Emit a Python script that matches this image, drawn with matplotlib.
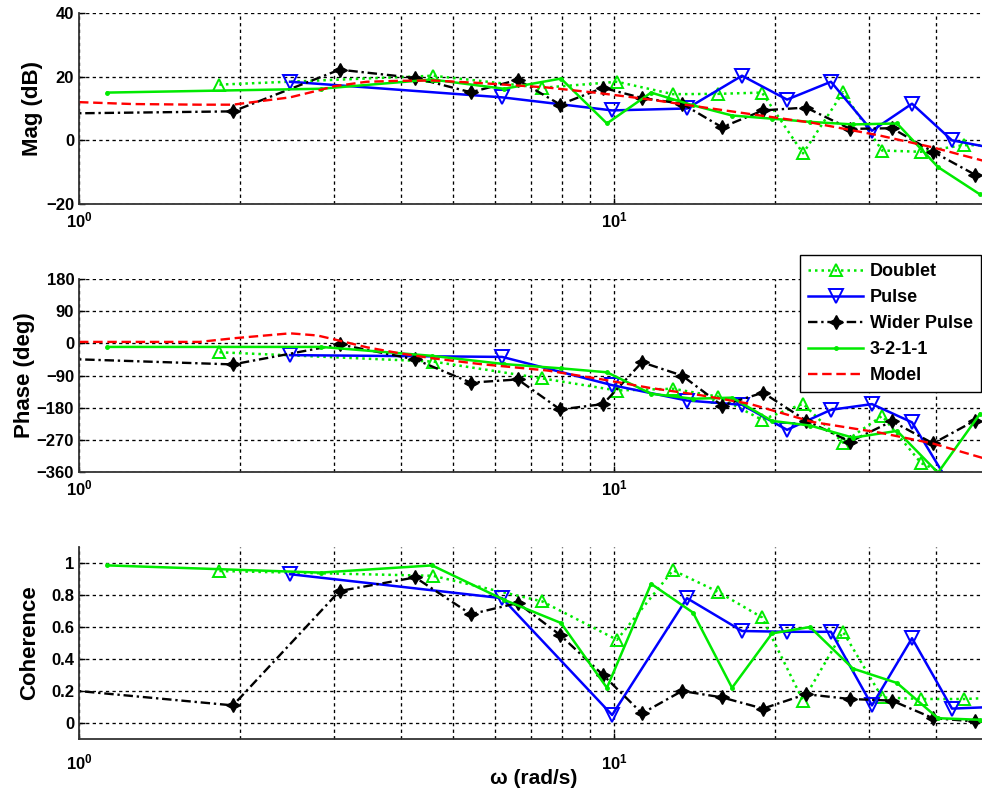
import numpy as np
import matplotlib
matplotlib.use("Agg")
import matplotlib.pyplot as plt
from matplotlib.ticker import LogLocator, NullFormatter

# ---- frequency responses (rad/s, dB, deg, coherence) ----
doublet_w = [1.83, 4.59, 7.34, 10.13, 12.89, 15.64, 18.91, 22.56, 26.8, 31.7, 37.5, 45.1, 53.5]
doublet_mag = [17.5, 20.3, 16.5, 18.4, 14.5, 14.6, 15.0, -4.1, 15.1, -3.2, -3.6, -1.5, -1.6]
doublet_phase = [-25, -51, -98, -132, -127, -149, -214, -169, -278, -203, -335, -390, -420]
doublet_coh = [0.95, 0.92, 0.76, 0.52, 0.955, 0.82, 0.66, 0.14, 0.57, 0.16, 0.15, 0.15, 0.16]

pulse_w = [2.48, 6.18, 9.92, 13.69, 17.35, 21.06, 25.44, 30.35, 36.06, 42.83, 51.0]
pulse_mag = [18.4, 13.5, 9.4, 10.0, 20.3, 12.8, 18.4, 3.0, 11.5, 0.0, -2.4]
pulse_phase = [-33, -38, -117, -160, -172, -242, -186, -170, -221, -405, -430]
pulse_coh = [0.93, 0.78, 0.05, 0.78, 0.575, 0.57, 0.57, 0.11, 0.53, 0.09, 0.10]

wider_w = [0.8, 1.94, 3.07, 4.25, 5.40, 6.61, 7.93, 9.54, 11.28, 13.40, 15.92,
           18.99, 22.85, 27.62, 33.08, 39.48, 47.30]
wider_mag = [8.3, 9.1, 22.2, 19.6, 15.1, 19.0, 11.25, 16.5, 13.3, 11.5, 4.1,
             9.4, 10.3, 3.6, 3.8, -3.6, -10.8]
wider_phase = [-40, -59, -3, -45, -110, -101, -185, -170, -53, -90, -174,
               -138, -216, -275, -218, -280, -216]
wider_coh = [0.23, 0.11, 0.825, 0.91, 0.68, 0.75, 0.55, 0.30, 0.06, 0.20, 0.16,
             0.09, 0.18, 0.15, 0.14, 0.03, 0.01]

s3211_w = [1.13, 2.83, 4.57, 6.23, 7.96, 9.70, 11.73, 14.05, 16.62, 19.74,
           23.25, 27.97, 33.81, 40.33, 48.33]
s3211_mag = [15.0, 16.2, 19.1, 16.2, 19.4, 5.3, 15.0, 11.0, 7.8, 6.8,
             5.8, 5.0, 5.3, -8.4, -17.0]
s3211_phase = [-10, -10, -35, -58, -70, -81, -141, -155, -152, -217,
               -230, -264, -245, -362, -197]
s3211_coh = [0.985, 0.94, 0.985, 0.77, 0.625, 0.22, 0.87, 0.69, 0.22, 0.56,
             0.60, 0.34, 0.25, 0.03, 0.02]

model_w = [1.0, 1.26, 1.68, 1.94, 2.48, 2.79, 3.0, 3.45, 3.98, 4.59, 5.62,
           7.5, 9.42, 11.7, 14.5, 17.9, 23.5, 31.4, 39.4, 50.0]
model_mag = [12.0, 11.4, 11.2, 11.2, 13.5, 15.6, 17.0, 18.4, 18.7, 18.8, 18.0,
             16.6, 14.8, 12.8, 10.5, 8.3, 5.5, 1.5, -2.2, -6.8]
model_phase = [4, 4, 4, 14, 28, 22, 11, -11, -28, -42, -58,
               -76, -100, -125, -145, -169, -220, -250, -280, -325]

mag_ticks = [-20, 0, 20, 40]
phase_ticks = [-360, -270, -180, -90, 0, 90, 180]
coh_ticks = [0, 0.2, 0.4, 0.6, 0.8, 1]
coh_labels = ["0", "0.2", "0.4", "0.6", "0.8", "1"]

plt.rcParams["font.family"] = ["Liberation Sans", "DejaVu Sans"]
plt.rcParams["font.weight"] = "bold"
plt.rcParams["mathtext.fontset"] = "custom"
plt.rcParams["mathtext.rm"] = "Liberation Sans"
plt.rcParams["mathtext.bf"] = "Liberation Sans:bold"
plt.rcParams["mathtext.it"] = "Liberation Sans:italic"

W, H = 982, 799
fig = plt.figure(figsize=(W / 100, H / 100), dpi=100)

def rect(top, bottom):
    return [79 / W, 1 - bottom / H, 535 * np.log10(50) / W, (bottom - top) / H]

ax_mag = fig.add_axes(rect(13, 204))
ax_ph = fig.add_axes(rect(279, 472))
ax_coh = fig.add_axes(rect(547, 739))

GREEN = "#00ea00"
styles = {
    "Doublet": dict(color=GREEN, linestyle=(0, (1, 1.6)), linewidth=1.8, marker="^",
                    markersize=9, markerfacecolor="none", markeredgewidth=1.4),
    "Pulse": dict(color="#0000ff", linestyle="-", linewidth=1.8, marker="v",
                  markersize=10, markerfacecolor="none", markeredgewidth=1.4),
    "Wider Pulse": dict(color="k", linestyle=(0, (4, 1.6, 1, 1.6)), linewidth=1.7,
                        marker=(4, 1, 0), markersize=10, markerfacecolor="k",
                        markeredgewidth=1.0),
    "3-2-1-1": dict(color=GREEN, linestyle="-", linewidth=1.8, marker=".",
                    markersize=5),
    "Model": dict(color="#ff0000", linestyle=(0, (4, 2)), linewidth=1.7),
}

def draw(ax, d, p, w, c, m):
    ax.plot(doublet_w, d, label="Doublet", **styles["Doublet"])
    ax.plot(pulse_w, p, label="Pulse", **styles["Pulse"])
    ax.plot(wider_w, w, label="Wider Pulse", **styles["Wider Pulse"])
    ax.plot(s3211_w, c, label="3-2-1-1", **styles["3-2-1-1"])
    if m is not None:
        ax.plot(model_w, m, label="Model", **styles["Model"])

draw(ax_mag, doublet_mag, pulse_mag, wider_mag, s3211_mag, model_mag)
draw(ax_ph, doublet_phase, pulse_phase, wider_phase, s3211_phase, model_phase)
draw(ax_coh, doublet_coh, pulse_coh, wider_coh, s3211_coh, None)

grid_kw = dict(color="k", linestyle=(0, (2.5, 2.5)), linewidth=0.95)
for ax, pad in ((ax_mag, 5), (ax_ph, 5), (ax_coh, 10)):
    ax.set_xscale("log")
    ax.set_xlim(1, 50)
    ax.set_xticks([1, 10])
    ax.set_xticklabels([r"$\mathbf{10^{0}}$", r"$\mathbf{10^{1}}$"])
    ax.xaxis.set_minor_locator(LogLocator(base=10, subs=np.arange(2, 10), numticks=20))
    ax.xaxis.set_minor_formatter(NullFormatter())
    ax.set_axisbelow(True)
    ax.grid(True, which="both", axis="x", **grid_kw)
    ax.grid(True, which="major", axis="y", **grid_kw)
    for s in ("top", "right"):
        ax.spines[s].set_visible(False)
    for s in ("left", "bottom"):
        ax.spines[s].set_linewidth(1.3)
        ax.spines[s].set_color("#333333")
    ax.tick_params(which="major", direction="in", length=4, width=1, labelsize=12)
    ax.tick_params(which="minor", direction="in", length=2.5, width=0.8)
    ax.tick_params(axis="x", pad=pad)

ax_mag.set_ylim(-20, 40)
ax_mag.set_yticks(mag_ticks)
ax_mag.set_ylabel("Mag (dB)", fontsize=16, fontweight="bold", labelpad=2.5)

ax_ph.set_ylim(-360, 180)
ax_ph.set_yticks(phase_ticks)
ax_ph.set_ylabel("Phase (deg)", fontsize=16, fontweight="bold", labelpad=1)

ax_coh.set_ylim(-0.1, 1.1)
ax_coh.set_yticks(coh_ticks)
ax_coh.set_yticklabels(coh_labels)
ax_coh.set_ylabel("Coherence", fontsize=16, fontweight="bold", labelpad=8)
ax_coh.set_xlabel("ω (rad/s)", fontsize=15, fontweight="bold", labelpad=-3)

handles, labels = ax_ph.get_legend_handles_labels()
leg = ax_ph.legend(handles, labels, loc="upper right",
                   bbox_to_anchor=(981 / W, 1 - 255 / H),
                   bbox_transform=fig.transFigure, borderaxespad=0,
                   fontsize=13, handlelength=3.0, handletextpad=0.4,
                   labelspacing=0.5, borderpad=0.45, numpoints=1,
                   fancybox=False, framealpha=1, edgecolor="k")
leg.get_frame().set_linewidth(1.0)
for t in leg.get_texts():
    t.set_fontweight("bold")

fig.savefig("out.png", dpi=100)
